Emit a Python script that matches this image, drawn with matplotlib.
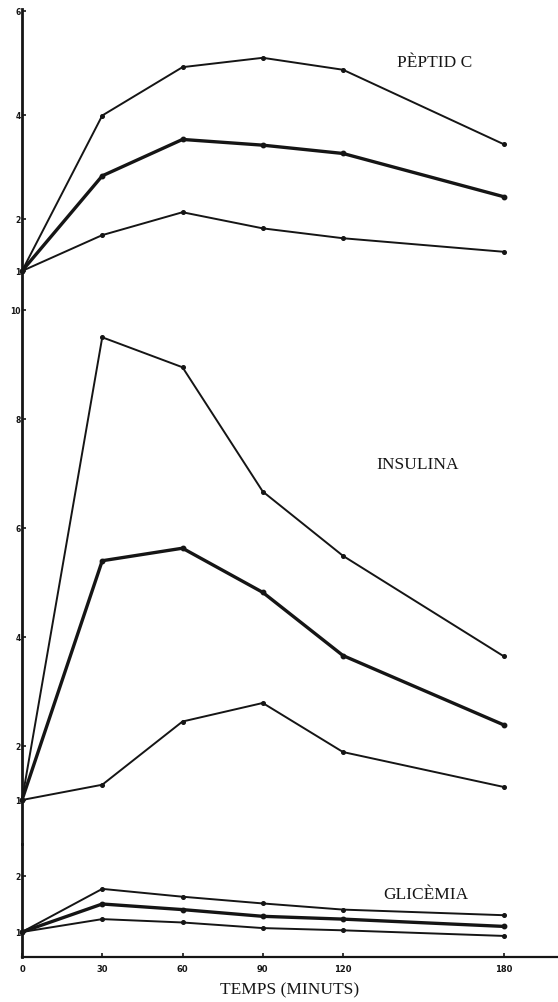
import matplotlib
matplotlib.use("Agg")
import matplotlib.pyplot as plt

# ---- data ----
minutes = [0, 30, 60, 90, 120, 180]
x_tick_labels = ["0", "30", "60", "90", "120", "180"]

peptid_high = [1.0, 3.99, 4.92, 5.10, 4.87, 3.44]
peptid_mean = [1.0, 2.83, 3.53, 3.42, 3.26, 2.43]
peptid_low = [1.0, 1.69, 2.13, 1.82, 1.63, 1.37]
peptid_ticks = [1, 2, 4, 6]

insulin_high = [1.0, 9.49, 8.94, 6.66, 5.48, 3.64]
insulin_mean = [1.0, 5.39, 5.62, 4.81, 3.65, 2.38]
insulin_low = [1.0, 1.28, 2.44, 2.78, 1.88, 1.24]
insulin_ticks = [1, 2, 4, 6, 8, 10]

glic_high = [1.0, 1.77, 1.63, 1.51, 1.40, 1.30]
glic_mean = [1.0, 1.50, 1.40, 1.28, 1.23, 1.10]
glic_low = [1.0, 1.23, 1.17, 1.07, 1.03, 0.93]
glic_ticks = [1, 2]

W, H = 558, 1003
fig = plt.figure(figsize=(W / 100, H / 100), dpi=100)
fig.patch.set_facecolor("white")

INK = "#151515"
LEFT = 22 / W
WIDTH = 535 / W


def fy(px):
    return 1 - px / H


def make_axes(top_px, bot_px, ylim, ticks, bottom=False):
    ax = fig.add_axes([LEFT, fy(bot_px), WIDTH, (bot_px - top_px) / H])
    ax.set_xlim(0, 200)
    ax.set_ylim(*ylim)
    for s in ["top", "right"]:
        ax.spines[s].set_visible(False)
    ax.spines["left"].set_linewidth(2.0)
    ax.spines["left"].set_color(INK)
    if bottom:
        ax.spines["bottom"].set_linewidth(1.6)
        ax.spines["bottom"].set_color(INK)
        ax.set_xticks(minutes)
        ax.set_xticklabels(x_tick_labels, fontsize=6, fontweight="bold",
                           color=INK)
        ax.tick_params(axis="x", direction="in", length=3, width=1.2,
                       pad=5, colors=INK)
    else:
        ax.spines["bottom"].set_visible(False)
        ax.set_xticks([])
    ax.set_yticks(ticks)
    ax.set_yticklabels([str(t) for t in ticks], fontsize=5.5,
                       fontweight="bold", color=INK)
    ax.tick_params(axis="y", direction="in", length=3, width=1.2, pad=1,
                   colors=INK)
    ax.patch.set_alpha(0)
    return ax


def draw(ax, series_thin, series_thick):
    for ys in series_thin:
        ax.plot(minutes, ys, color=INK, lw=1.4, marker="o", ms=2.6,
                clip_on=False, zorder=3)
    ax.plot(minutes, series_thick, color=INK, lw=2.4, marker="o", ms=3.2,
            clip_on=False, zorder=3)


# Peptid C: value 1 at 272 px, 52 px per unit
ax1 = make_axes(10, 272, (1, 1 + 262 / 52), peptid_ticks)
draw(ax1, [peptid_high, peptid_low], peptid_mean)

# Insulina: value 1 at 801 px, 54.5 px per unit
ax2 = make_axes(272, 845, (1 - 44 / 54.5, 1 + 529 / 54.5), insulin_ticks)
draw(ax2, [insulin_high, insulin_low], insulin_mean)

# Glicemia: value 1 at 933 px, 56 px per unit
ax3 = make_axes(845, 958, (1 - 25 / 56, 1 + 88 / 56), glic_ticks, bottom=True)
draw(ax3, [glic_high, glic_low], glic_mean)

serif = ["Liberation Serif", "DejaVu Serif"]
fig.text(435 / W, fy(63), "PÈPTID C", ha="center", va="center",
         fontsize=12.5, family=serif, color=INK)
fig.text(418 / W, fy(465), "INSULINA", ha="center", va="center",
         fontsize=12.5, family=serif, color=INK)
fig.text(426 / W, fy(895), "GLICÈMIA", ha="center", va="center",
         fontsize=12.5, family=serif, color=INK)
fig.text(290 / W, fy(990), "TEMPS (MINUTS)", ha="center", va="center",
         fontsize=12.5, family=serif, color=INK)

fig.savefig("out.png", dpi=100, facecolor="white")
